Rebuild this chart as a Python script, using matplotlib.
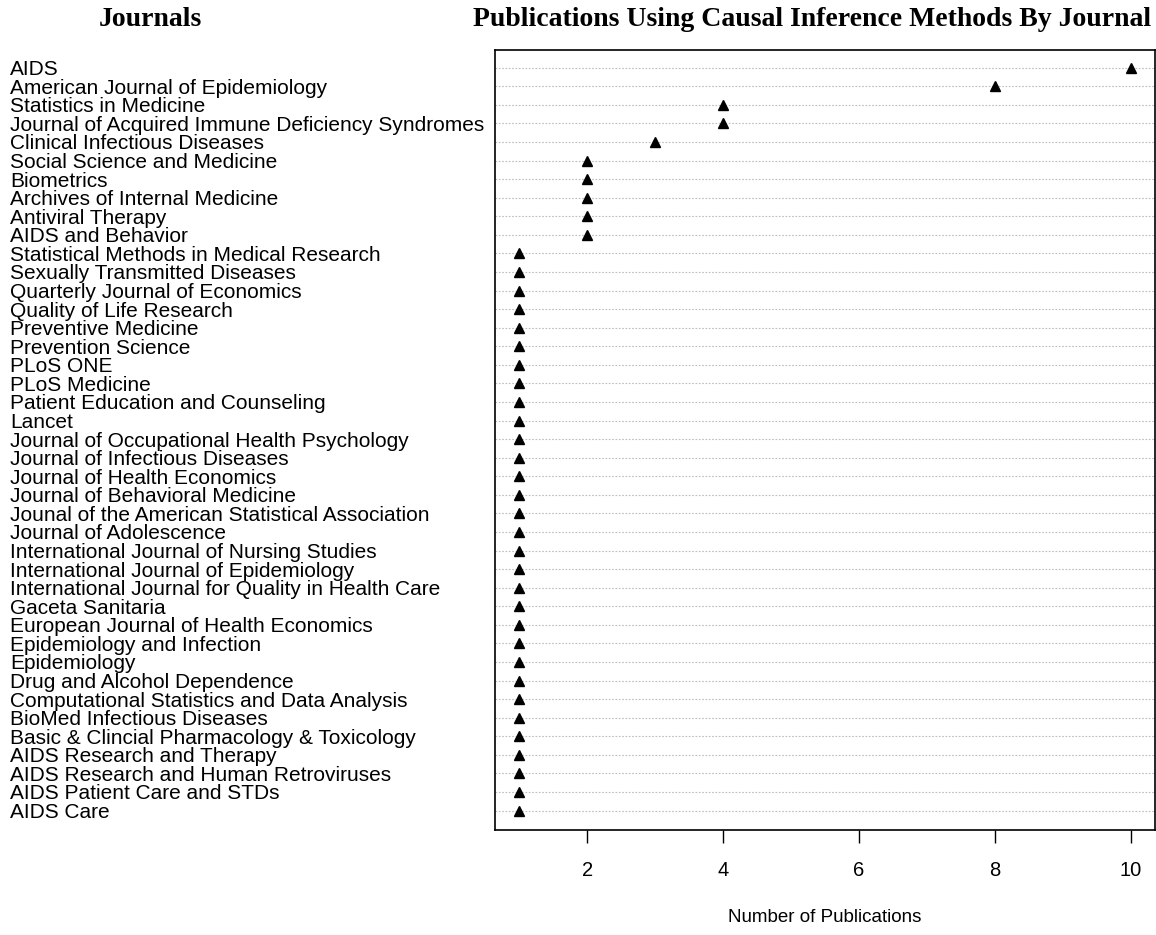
import numpy as np
import matplotlib.pyplot as plt

# journals listed top to bottom, with publication counts
journals = [
    'AIDS',
    'American Journal of Epidemiology',
    'Statistics in Medicine',
    'Journal of Acquired Immune Deficiency Syndromes',
    'Clinical Infectious Diseases',
    'Social Science and Medicine',
    'Biometrics',
    'Archives of Internal Medicine',
    'Antiviral Therapy',
    'AIDS and Behavior',
    'Statistical Methods in Medical Research',
    'Sexually Transmitted Diseases',
    'Quarterly Journal of Economics',
    'Quality of Life Research',
    'Preventive Medicine',
    'Prevention Science',
    'PLoS ONE',
    'PLoS Medicine',
    'Patient Education and Counseling',
    'Lancet',
    'Journal of Occupational Health Psychology',
    'Journal of Infectious Diseases',
    'Journal of Health Economics',
    'Journal of Behavioral Medicine',
    'Jounal of the American Statistical Association',
    'Journal of Adolescence',
    'International Journal of Nursing Studies',
    'International Journal of Epidemiology',
    'International Journal for Quality in Health Care',
    'Gaceta Sanitaria',
    'European Journal of Health Economics',
    'Epidemiology and Infection',
    'Epidemiology',
    'Drug and Alcohol Dependence',
    'Computational Statistics and Data Analysis',
    'BioMed Infectious Diseases',
    'Basic & Clincial Pharmacology & Toxicology',
    'AIDS Research and Therapy',
    'AIDS Research and Human Retroviruses',
    'AIDS Patient Care and STDs',
    'AIDS Care',
]
counts = [10, 8, 4, 4, 3, 2, 2, 2, 2, 2] + [1] * 31
xticks = [2, 4, 6, 8, 10]

n = len(journals)
ypos = np.arange(n, 0, -1)

fig = plt.figure(figsize=(11.56, 9.35), dpi=100)
ax = fig.add_axes([495 / 1156, 1 - 830 / 935, 660 / 1156, 780 / 935])

ax.hlines(ypos, 0.64, 10.36, colors='#bdbdbd', linestyles=(0, (1.5, 1.5)), linewidth=0.8)
ax.plot(counts, ypos, '^', color='black', markersize=7.5, linestyle='none')

ax.set_xlim(0.64, 10.36)
ax.set_ylim(-0.05, n + 0.95)
ax.set_xticks(xticks)
ax.set_xticklabels([str(t) for t in xticks], fontfamily='Liberation Sans', fontsize=14.5)
ax.tick_params(axis='x', length=9, width=1, pad=13)
ax.set_yticks(ypos)
ax.set_yticklabels(journals, fontfamily='Liberation Sans', fontsize=15)
for lab in ax.get_yticklabels():
    lab.set_horizontalalignment('left')
ax.tick_params(axis='y', length=0, pad=349)
for s in ax.spines.values():
    s.set_linewidth(1.2)

ax.set_xlabel('Number of Publications', fontfamily='Liberation Sans', fontsize=13.5, labelpad=21)

fig.text(150 / 1156, 1 - 19 / 935, 'Journals', ha='center', va='center',
         fontfamily='Liberation Serif', fontweight='bold', fontsize=20)
fig.text(812 / 1156, 1 - 19 / 935, 'Publications Using Causal Inference Methods By Journal',
         ha='center', va='center', fontfamily='Liberation Serif', fontweight='bold', fontsize=20)

fig.savefig('out.png', dpi=100)
